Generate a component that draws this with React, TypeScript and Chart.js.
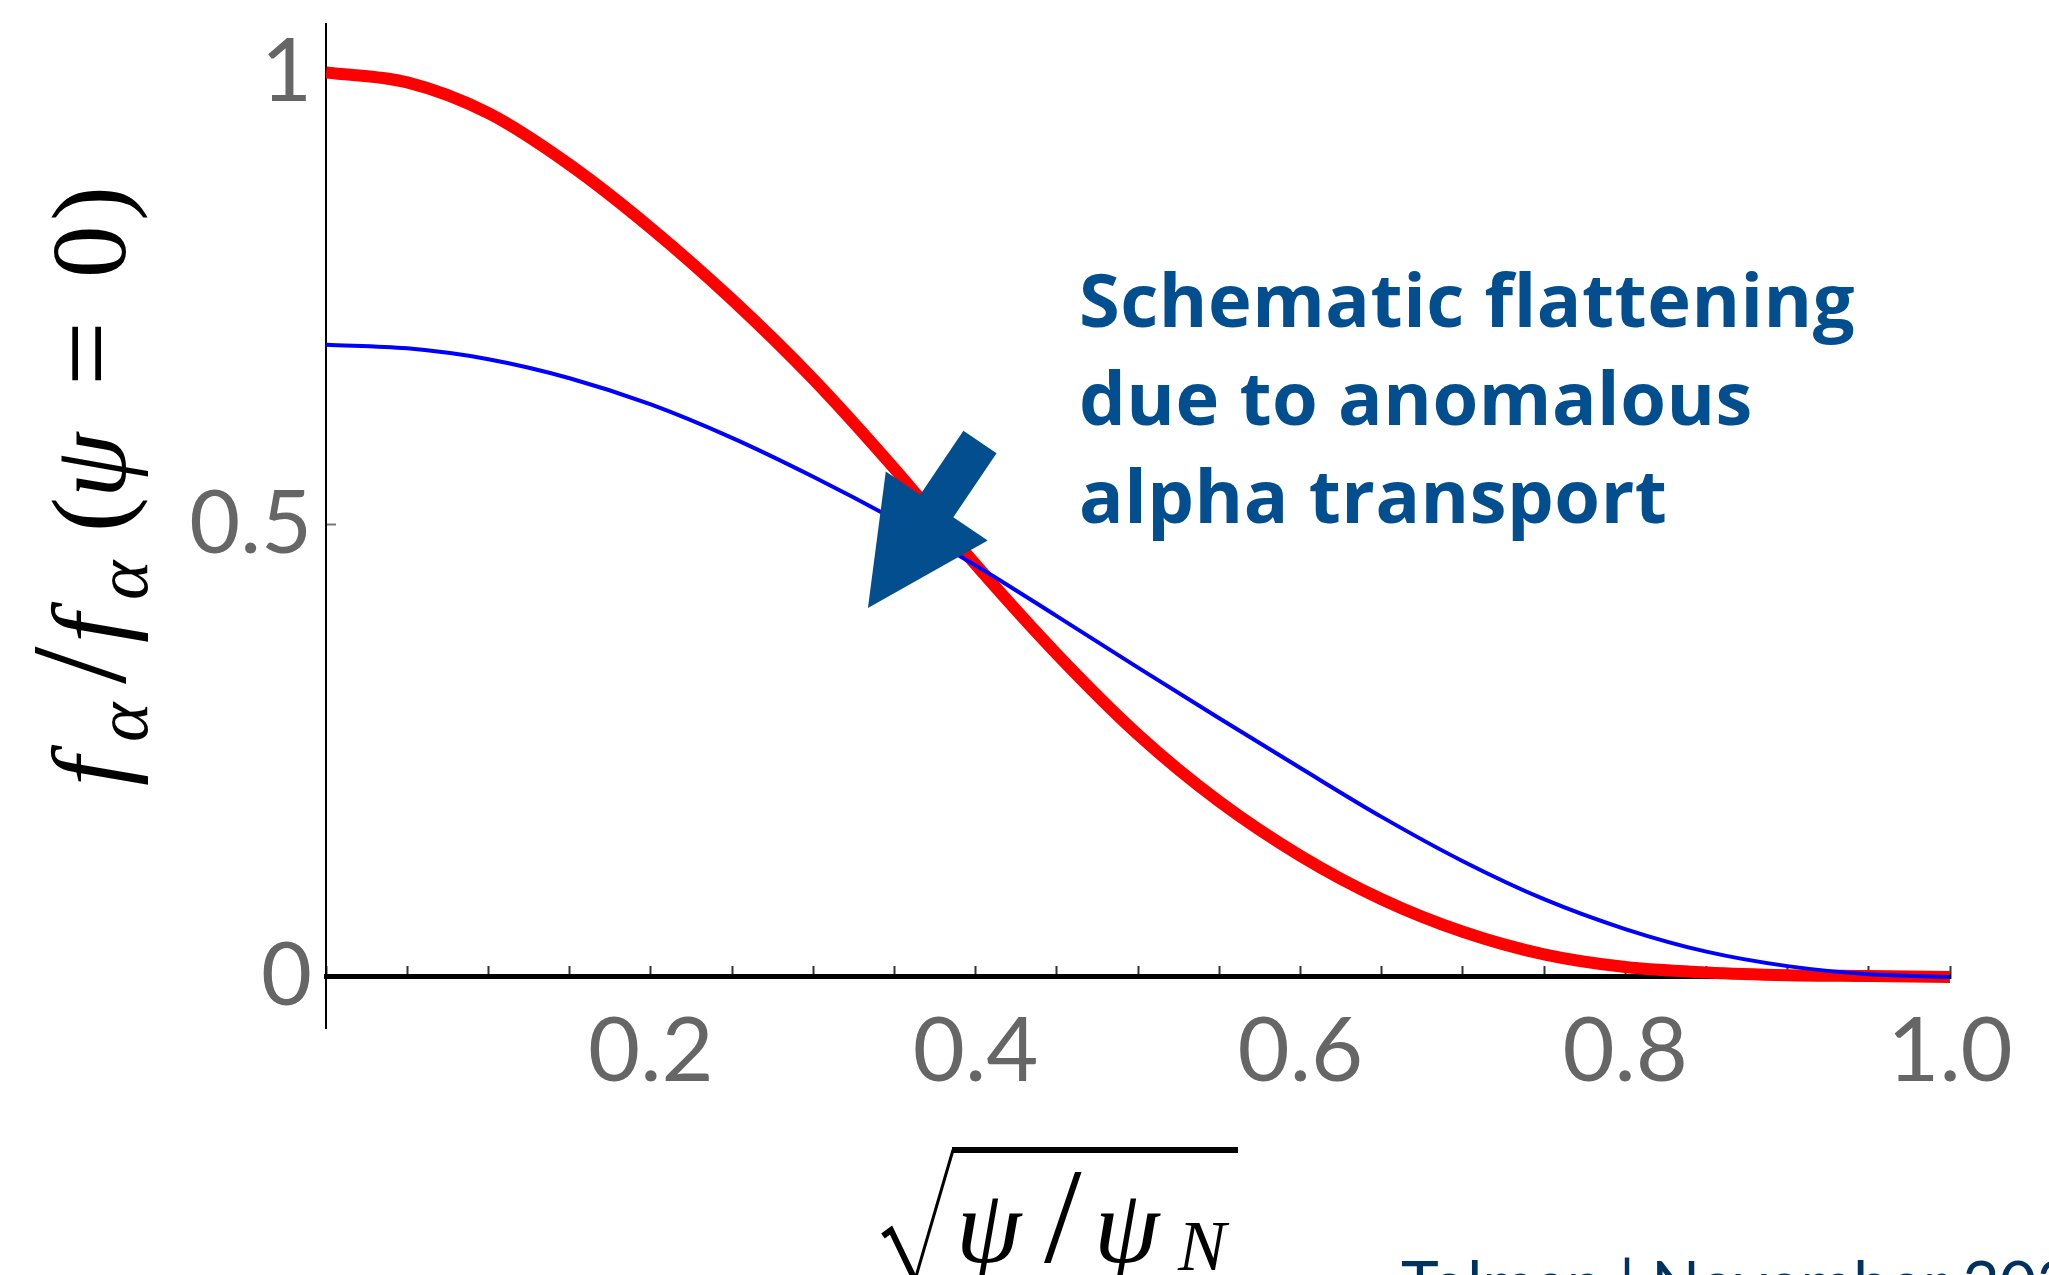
import React, { useEffect, useRef } from 'react';
import { Chart, registerables } from 'chart.js';

Chart.register(...registerables);

// ---- data (x = sqrt(psi/psi_N)) ----
const X_VALUES = [0, 0.05, 0.1, 0.15, 0.2, 0.25, 0.3, 0.35, 0.4, 0.45, 0.5, 0.55, 0.6, 0.65, 0.7, 0.75, 0.8, 0.85, 0.9, 0.95, 1.0];
const RED_Y = [1.0, 0.989, 0.955, 0.898, 0.828, 0.749, 0.661, 0.562, 0.456, 0.357, 0.268, 0.194, 0.134, 0.086, 0.05, 0.025, 0.011, 0.005, 0.002, 0.001, 0.0];
const BLUE_Y = [0.699, 0.695, 0.683, 0.662, 0.633, 0.596, 0.553, 0.506, 0.455, 0.399, 0.342, 0.286, 0.231, 0.177, 0.128, 0.086, 0.053, 0.028, 0.012, 0.003, 0.0];

const X_MAJOR_TICKS = [0.2, 0.4, 0.6, 0.8, 1.0];
const X_TICK_LABELS = ['0.2', '0.4', '0.6', '0.8', '1.0'];
const Y_TICKS = [0, 0.5, 1];
const Y_TICK_LABELS = ['0', '0.5', '1'];

const Y_MIN = -0.0564;
const Y_MAX = 1.0536;

// arrow (tail -> tip) in data coordinates
const ARROW_TAIL = [0.4027, 0.5915];
const ARROW_TIP = [0.3337, 0.408];

const ANNOT_LINES = ['Schematic flattening', 'due to anomalous', 'alpha transport'];
const FOOTER = 'Tolman | November 2024';

const BLUE_ANNOT = '#034E8F';
const SERIF = '"Liberation Serif", "DejaVu Serif", serif';

function drawInk(ctx: CanvasRenderingContext2D, text: string, font: string, inkLeft: number, baseline: number) {
  ctx.font = font;
  const m = ctx.measureText(text);
  ctx.fillText(text, inkLeft + m.actualBoundingBoxLeft, baseline);
}

function drawInkTop(ctx: CanvasRenderingContext2D, text: string, font: string, inkLeft: number, inkTop: number) {
  ctx.font = font;
  const m = ctx.measureText(text);
  ctx.fillText(text, inkLeft + m.actualBoundingBoxLeft, inkTop + m.actualBoundingBoxAscent);
}

const overlayPlugin = {
  id: 'overlay',
  afterDraw(chart: any) {
    const ctx = chart.ctx as CanvasRenderingContext2D;
    const xs = chart.scales.x;
    const ys = chart.scales.y;

    // ---- arrow ----
    const tx = xs.getPixelForValue(ARROW_TIP[0]);
    const ty = ys.getPixelForValue(ARROW_TIP[1]);
    const sx = xs.getPixelForValue(ARROW_TAIL[0]);
    const sy = ys.getPixelForValue(ARROW_TAIL[1]);
    const dx = tx - sx, dy = ty - sy;
    const len = Math.hypot(dx, dy);
    const ux = dx / len, uy = dy / len;
    const px = -uy, py = ux;
    const headLen = 123, headHalf = 61.5, shaftHalf = 20;
    const bx = tx - ux * headLen, by = ty - uy * headLen;
    ctx.save();
    ctx.fillStyle = BLUE_ANNOT;
    ctx.beginPath();
    ctx.moveTo(sx + px * shaftHalf, sy + py * shaftHalf);
    ctx.lineTo(bx + px * shaftHalf, by + py * shaftHalf);
    ctx.lineTo(bx + px * headHalf, by + py * headHalf);
    ctx.lineTo(tx, ty);
    ctx.lineTo(bx - px * headHalf, by - py * headHalf);
    ctx.lineTo(bx - px * shaftHalf, by - py * shaftHalf);
    ctx.lineTo(sx - px * shaftHalf, sy - py * shaftHalf);
    ctx.closePath();
    ctx.fill();
    ctx.restore();

    // ---- annotation text ----
    ctx.save();
    ctx.fillStyle = BLUE_ANNOT;
    ctx.font = '700 74px "Open Sans"';
    (ctx as any).letterSpacing = '0.5px';
    ctx.textBaseline = 'alphabetic';
    ctx.textAlign = 'left';
    ANNOT_LINES.forEach((line, i) => {
      ctx.fillText(line, 1079, 327 + i * 98);
    });
    (ctx as any).letterSpacing = '0px';
    ctx.restore();

    // ---- y-axis title: f_α / f_α(ψ = 0), rotated ----
    ctx.save();
    ctx.translate(125, 785);
    ctx.rotate(-Math.PI / 2);
    ctx.fillStyle = '#000';
    ctx.textBaseline = 'alphabetic';
    ctx.textAlign = 'left';
    const pieces: [string, number, string, number][] = [
      ['f', 0, 'italic 105px', 0],
      ['α', 45, 'italic 75px', 22],
      ['/', 101, '135px', 0],
      ['f', 143, 'italic 105px', 0],
      ['α', 187, 'italic 75px', 22],
      ['(', 257, '105px', 0],
      ['ψ', 293, 'italic 105px', 0],
      ['=', 404, '115px', 0],
      ['0', 511, '105px', 0],
      [')', 567, '105px', 0],
    ];
    pieces.forEach(([t, d, f, off]) => drawInk(ctx, t, `${f} ${SERIF}`, d, off));
    ctx.restore();

    // ---- x-axis title: sqrt(ψ/ψ_N) ----
    ctx.save();
    ctx.strokeStyle = '#000';
    ctx.lineJoin = 'miter';
    ctx.lineCap = 'butt';
    ctx.lineWidth = 6;
    ctx.beginPath();
    ctx.moveTo(883, 1236);
    ctx.lineTo(891, 1230);
    ctx.lineTo(915, 1280);
    ctx.stroke();
    ctx.lineWidth = 3;
    ctx.beginPath();
    ctx.moveTo(915, 1280);
    ctx.lineTo(953, 1150);
    ctx.stroke();
    ctx.lineWidth = 6;
    ctx.beginPath();
    ctx.moveTo(952, 1150);
    ctx.lineTo(1238, 1150);
    ctx.stroke();
    ctx.fillStyle = '#000';
    ctx.textBaseline = 'alphabetic';
    drawInkTop(ctx, 'ψ', `italic 105px ${SERIF}`, 962, 1198);
    drawInkTop(ctx, '/', `135px ${SERIF}`, 1044, 1172);
    drawInkTop(ctx, 'ψ', `italic 105px ${SERIF}`, 1100, 1198);
    drawInkTop(ctx, 'N', `italic 72px ${SERIF}`, 1177, 1223);
    ctx.restore();

    // ---- footer ----
    ctx.save();
    ctx.fillStyle = '#00325F';
    ctx.font = '64px Lato';
    ctx.textBaseline = 'alphabetic';
    ctx.fillText(FOOTER, 1401, 1307);
    ctx.restore();
  },
};

export default function App() {
  const canvasRef = useRef<HTMLCanvasElement | null>(null);

  useEffect(() => {
    const canvas = canvasRef.current;
    if (!canvas) return;
    const chart = new Chart(canvas, {
      type: 'line',
      data: {
        datasets: [
          {
            label: 'flattened',
            data: X_VALUES.map((x, i) => ({ x, y: BLUE_Y[i] })),
            borderColor: '#0000FF',
            backgroundColor: '#0000FF',
            borderWidth: 4,
            pointRadius: 0,
            cubicInterpolationMode: 'monotone',
            fill: false,
            order: 0,
          },
          {
            label: 'peaked',
            data: X_VALUES.map((x, i) => ({ x, y: RED_Y[i] })),
            borderColor: '#FF0000',
            backgroundColor: '#FF0000',
            borderWidth: 12,
            pointRadius: 0,
            cubicInterpolationMode: 'monotone',
            fill: false,
            order: 1,
          },
        ],
      } as any,
      options: {
        animation: false,
        responsive: false,
        devicePixelRatio: 1,
        layout: { padding: { left: 0, top: 24, right: 99, bottom: 247 } },
        plugins: { legend: { display: false }, tooltip: { enabled: false } },
        scales: {
          x: {
            type: 'linear',
            min: 0,
            max: 1,
            position: { y: 0 },
            z: 1,
            grid: { display: true, drawOnChartArea: false, drawTicks: true, tickLength: -13, tickColor: '#333', tickWidth: 2 },
            border: { display: true, color: '#000', width: 5 },
            ticks: {
              stepSize: 0.05,
              autoSkip: false,
              maxRotation: 0,
              padding: 34,
              color: '#666666',
              font: { family: 'Lato', size: 90 },
              callback: (value: any) => {
                const i = X_MAJOR_TICKS.findIndex((v) => Math.abs(v - Number(value)) < 1e-6);
                return i >= 0 ? X_TICK_LABELS[i] : '';
              },
            },
            afterFit: (s: any) => {
              s.paddingLeft = 0;
              s.paddingRight = 0;
            },
          },
          y: {
            type: 'linear',
            min: Y_MIN,
            max: Y_MAX,
            position: 'left',
            z: 1,
            grid: { display: true, drawOnChartArea: false, drawTicks: true, tickLength: -10, tickColor: '#777', tickWidth: 2 },
            border: { display: true, color: '#000', width: 2 },
            ticks: {
              padding: 24,
              color: '#666666',
              font: { family: 'Lato', size: 88 },
              callback: (value: any) => {
                const i = Y_TICKS.findIndex((v) => Math.abs(v - Number(value)) < 1e-6);
                return i >= 0 ? Y_TICK_LABELS[i] : '';
              },
            },
            afterBuildTicks: (s: any) => {
              s.ticks = Y_TICKS.map((v) => ({ value: v }));
            },
            afterFit: (s: any) => {
              s.width = 326;
              s.paddingTop = 0;
              s.paddingBottom = 0;
            },
          },
        },
      } as any,
      plugins: [overlayPlugin],
    });
    return () => chart.destroy();
  }, []);

  return (
    <div style={{ position: 'fixed', left: 0, top: 0, width: 2049, height: 1275, overflow: 'hidden', background: '#fff' }}>
      <canvas ref={canvasRef} width={2049} height={1275} style={{ display: 'block', width: 2049, height: 1275 }} />
    </div>
  );
}
